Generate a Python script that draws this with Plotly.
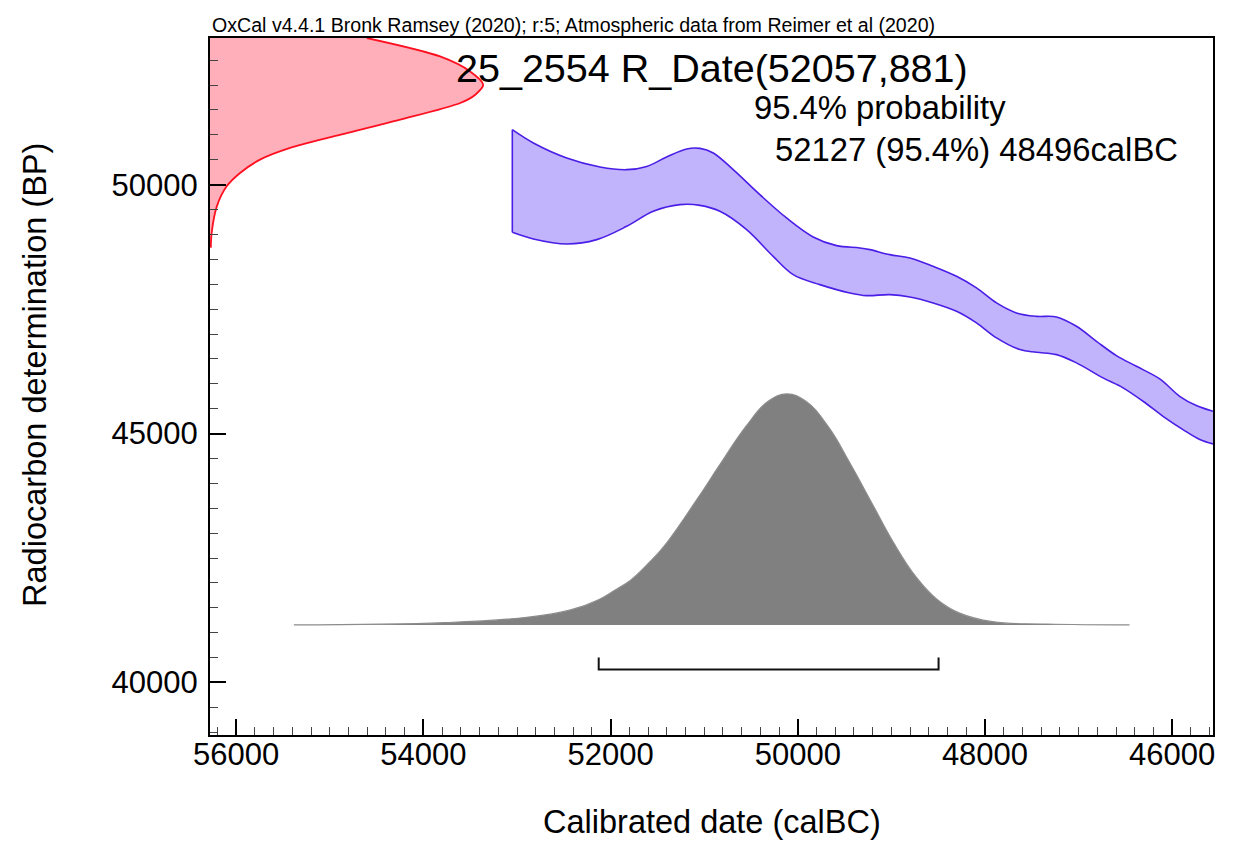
import plotly.graph_objects as go

# ---------------- data ----------------
# Radiocarbon determination (red curve on the BP axis): relative probability vs BP
red_bp = [48735, 49030, 49564, 49966, 50235, 50502, 50737, 50970, 51305,
          51641, 51807, 52008, 52275, 52576, 52946]
red_prob = [0.003, 0.006, 0.025, 0.061, 0.110, 0.183, 0.293, 0.452, 0.696,
            0.916, 0.971, 1.000, 0.952, 0.842, 0.574]

# Calibration curve band (upper and lower edges), calBC vs BP
cal_upper_x = [53050, 52825, 52469, 52113, 51828, 51614, 51401, 51187, 51045,
               50903, 50690, 50405, 50120, 49836, 49586, 49337, 49230, 49017,
               48803, 48554, 48304, 48091, 47877, 47664, 47450, 47236, 47023,
               46809, 46596, 46382, 46133, 45920, 45742, 45564]
cal_upper_y = [51104, 50837, 50536, 50355, 50301, 50367, 50556, 50717, 50729,
               50637, 50301, 49799, 49331, 48950, 48775, 48729, 48695, 48594,
               48528, 48359, 48159, 47926, 47624, 47424, 47355, 47343, 47155,
               46853, 46566, 46351, 46098, 45749, 45562, 45448]
cal_lower_x = [53050, 52825, 52469, 52148, 51828, 51544, 51259, 51045, 50832,
               50547, 50263, 50049, 49764, 49444, 49265, 49017, 48803, 48554,
               48304, 48091, 47877, 47628, 47450, 47236, 47023, 46739, 46525,
               46312, 46098, 45885, 45706, 45564]
cal_lower_y = [49042, 48910, 48809, 48896, 49163, 49464, 49598, 49584, 49464,
               49096, 48560, 48193, 47992, 47825, 47771, 47791, 47745, 47624,
               47456, 47223, 46922, 46687, 46633, 46586, 46420, 46118, 45918,
               45649, 45347, 45080, 44880, 44793]

# Calibrated date distribution (grey): calBC vs relative probability
grey_cal = [55384, 53774, 52896, 52427, 52135, 51960, 51783, 51600, 51432, 51081,
            50847, 50554, 50320, 50115, 49910, 49676, 49442, 49208, 48974, 48739,
            48505, 48271, 47920, 47335, 46456]
grey_prob = [0.0, 0.010, 0.033, 0.065, 0.108, 0.149, 0.195, 0.265, 0.339, 0.541,
             0.685, 0.859, 0.967, 1.000, 0.967, 0.859, 0.700, 0.527, 0.354, 0.209,
             0.108, 0.051, 0.014, 0.004, 0.0]

# 95.4% range
range_from = 52127
range_to = 48496

x_ticks = [56000, 54000, 52000, 50000, 48000, 46000]
y_ticks = [40000, 45000, 50000]

title_text = "25_2554 R_Date(52057,881)"
prob_text = "95.4% probability"
range_text = "52127 (95.4%) 48496calBC"
header_text = "OxCal v4.4.1 Bronk Ramsey (2020); r:5; Atmospheric data from Reimer et al (2020)"
x_title = "Calibrated date (calBC)"
y_title = "Radiocarbon determination (BP)"

# ---------------- styling / layout constants ----------------
FONT = "Liberation Sans, Arial, sans-serif"
X_RANGE = [56280, 45564]
Y_RANGE = [38945, 52946]
BRACKET_Y = 40261
BRACKET_TOP = 40502
RED_AX_RANGE = [0, 3.671]
GREY_AX_RANGE = [-0.4763, 2.5403]
BAND_LINE = "#4a1ee6"

fig = go.Figure()

# calibration band
fig.add_trace(go.Scatter(x=cal_lower_x, y=cal_lower_y, mode="lines",
                         line=dict(color=BAND_LINE, width=1.6, shape="spline", smoothing=1.0),
                         hoverinfo="skip"))
fig.add_trace(go.Scatter(x=cal_upper_x, y=cal_upper_y, mode="lines", fill="tonexty",
                         fillcolor="#c1b3fc",
                         line=dict(color=BAND_LINE, width=1.6, shape="spline", smoothing=1.0),
                         hoverinfo="skip"))
fig.add_trace(go.Scatter(x=[cal_upper_x[0], cal_lower_x[0]], y=[cal_upper_y[0], cal_lower_y[0]],
                         mode="lines", line=dict(color=BAND_LINE, width=1.6), hoverinfo="skip"))

# radiocarbon determination (red)
fig.add_trace(go.Scatter(x=red_prob, y=red_bp, xaxis="x2", yaxis="y", mode="lines",
                         fill="tozerox", fillcolor="#ffafb9",
                         line=dict(color="#ff1020", width=1.8, shape="spline", smoothing=0.8),
                         hoverinfo="skip"))

# calibrated distribution (grey)
fig.add_trace(go.Scatter(x=grey_cal, y=grey_prob, xaxis="x", yaxis="y2", mode="lines",
                         fill="tozeroy", fillcolor="#808080",
                         line=dict(color="#8c8c8c", width=1.2, shape="spline", smoothing=1.2),
                         hoverinfo="skip"))

# 95.4% range bracket
fig.add_trace(go.Scatter(x=[range_from, range_from, range_to, range_to],
                         y=[BRACKET_TOP, BRACKET_Y, BRACKET_Y, BRACKET_TOP],
                         mode="lines", line=dict(color="#111111", width=2), hoverinfo="skip"))

axis_common = dict(showgrid=False, zeroline=False, showline=True, linecolor="#000000",
                   linewidth=2, mirror=True, ticks="inside", tickcolor="#000000",
                   tickwidth=2, ticklen=16,
                   tickfont=dict(family=FONT, size=31, color="#000000"))

# the page adds an 8px body margin, so the figure is sized to fit the window
fig.update_layout(
    width=1232, height=835, autosize=False,
    margin=dict(l=202, r=27, t=30, b=108, pad=0),
    paper_bgcolor="white", plot_bgcolor="white",
    showlegend=False,
    font=dict(family=FONT, color="#000000"),
    xaxis=dict(range=X_RANGE, tickvals=x_ticks, tickformat="d", ticklabelstandoff=-9,
               minor=dict(dtick=200, tick0=0, ticks="inside", ticklen=8, tickwidth=1.2,
                          tickcolor="#444444"),
               **axis_common),
    yaxis=dict(range=Y_RANGE, tickvals=y_ticks, tickformat="d", ticklabelstandoff=4,
               minor=dict(dtick=500, tick0=0, ticks="inside", ticklen=8, tickwidth=1.2,
                          tickcolor="#444444"),
               **axis_common),
    xaxis2=dict(overlaying="x", anchor="y", range=RED_AX_RANGE, visible=False),
    yaxis2=dict(overlaying="y", anchor="x", range=GREY_AX_RANGE, visible=False),
)

annotations = [
    dict(text=header_text, x=0.0, y=1.018, xanchor="left", yanchor="middle",
         font=dict(size=19.6, family=FONT, color="#000000")),
    dict(text=title_text, x=0.5, y=0.957, xanchor="center", yanchor="middle",
         font=dict(size=39.5, family=FONT, color="#000000")),
    dict(text=prob_text, x=0.540, y=0.901, xanchor="left", yanchor="middle",
         font=dict(size=32.8, family=FONT, color="#000000")),
    dict(text=range_text, x=0.561, y=0.840, xanchor="left", yanchor="middle",
         font=dict(size=32.8, family=FONT, color="#000000")),
    dict(text=x_title, x=0.5, y=-0.1249, xanchor="center", yanchor="middle",
         font=dict(size=32.5, family=FONT, color="#000000")),
    dict(text=y_title, x=-0.1744, y=0.5167, xanchor="center", yanchor="middle", textangle=-90,
         font=dict(size=32.5, family=FONT, color="#000000")),
]
for a in annotations:
    a.update(xref="paper", yref="paper", showarrow=False)
fig.update_layout(annotations=annotations)

fig.write_html("out.html")
